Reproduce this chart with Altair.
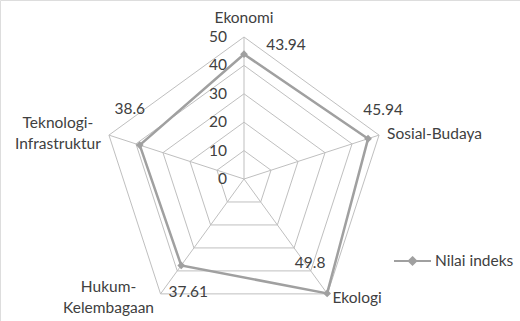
import math
import altair as alt
import pandas as pd

categories = ["Ekonomi", "Sosial-Budaya", "Ekologi", "Hukum-Kelembagaan", "Teknologi-Infrastruktur"]
display_labels = ["Ekonomi", "Sosial-Budaya", "Ekologi", "Hukum-\nKelembagaan", "Teknologi-\nInfrastruktur"]
values = [43.94, 45.94, 49.8, 37.61, 38.6]
value_labels = ["43.94", "45.94", "49.8", "37.61", "38.6"]
levels = [0, 10, 20, 30, 40, 50]
series_name = "Nilai indeks"

RMAX = 50
FONT = "Lato"
FS = 15.5
TXT = "#404040"
GRID = "#BFBFBF"
LINE = "#A0A0A0"

def ang(i):
    return math.radians(90 - 72 * i)

# grid pentagons
grid_rows = []
for lv in levels[1:]:
    for k in range(6):
        i = k % 5
        grid_rows.append({"level": lv, "order": k, "x": lv * math.cos(ang(i)), "y": lv * math.sin(ang(i))})
grid_df = pd.DataFrame(grid_rows)

spoke_df = pd.DataFrame([
    {"cat": c, "x": 0.0, "y": 0.0, "x2": RMAX * math.cos(ang(i)), "y2": RMAX * math.sin(ang(i))}
    for i, c in enumerate(categories)
])

data_rows = []
for k in range(6):
    i = k % 5
    data_rows.append({"order": k, "cat": categories[i], "series": series_name,
                      "x": values[i] * math.cos(ang(i)), "y": values[i] * math.sin(ang(i)),
                      "vlabel": value_labels[i]})
data_df = pd.DataFrame(data_rows)
pts_df = data_df.iloc[:5]

tick_df = pd.DataFrame({"level": levels, "x": [0.0] * len(levels), "label": [str(l) for l in levels]})

cat_df = pd.DataFrame([
    {"cat": c, "label": display_labels[i], "x": RMAX * math.cos(ang(i)), "y": RMAX * math.sin(ang(i))}
    for i, c in enumerate(categories)
])

xs = alt.Scale(domain=[-244 / 2.84, 276 / 2.84], nice=False, zero=False)
ys = alt.Scale(domain=[-142 / 2.84, 179 / 2.84], nice=False, zero=False)
X = lambda f="x": alt.X(f, type="quantitative", scale=xs, axis=None)
Y = lambda f="y": alt.Y(f, type="quantitative", scale=ys, axis=None)

grid = alt.Chart(grid_df).mark_line(color=GRID, strokeWidth=1).encode(
    x=X(), y=Y(), detail="level:N", order="order:Q")

spokes = alt.Chart(spoke_df).mark_rule(color=GRID, strokeWidth=1).encode(
    x=X(), y=Y(), x2="x2:Q", y2="y2:Q")

ticks = alt.Chart(tick_df).mark_text(align="right", baseline="middle", dx=-17, dy=0, font=FONT, fontSize=FS, color=TXT).encode(
    x=X(), y=Y("level"), text="label:N")

color = alt.Color("series:N", scale=alt.Scale(domain=[series_name], range=[LINE]),
                  legend=alt.Legend(title=None, orient="none", legendX=393, legendY=241.5, padding=0,
                                    symbolType="M-1,0H-0.2M0.2,0H1M0,-0.2L0.2,0L0,0.2L-0.2,0Z",
                                    symbolSize=1369, symbolStrokeWidth=2, symbolFillColor=LINE,
                                    symbolStrokeColor=LINE, labelFont=FONT, labelFontSize=FS,
                                    labelColor=TXT, labelOffset=3))

line = alt.Chart(data_df).mark_line(strokeWidth=2.5).encode(
    x=X(), y=Y(), order="order:Q", color=color)
points = alt.Chart(pts_df).mark_point(shape="diamond", filled=True, size=60, opacity=1, color=LINE).encode(
    x=X(), y=Y())

cat_style = {
    "Ekonomi": dict(align="center", dx=0, dy=-19),
    "Sosial-Budaya": dict(align="left", dx=8, dy=-1),
    "Ekologi": dict(align="left", dx=5, dy=4),
    "Hukum-Kelembagaan": dict(align="center", dx=-52, dy=-7),
    "Teknologi-Infrastruktur": dict(align="center", dx=-51, dy=-12),
}
val_style = {
    "Ekonomi": dict(dx=42, dy=-9),
    "Sosial-Budaya": dict(dx=15, dy=-29),
    "Ekologi": dict(dx=-17, dy=-30),
    "Hukum-Kelembagaan": dict(dx=7, dy=27),
    "Teknologi-Infrastruktur": dict(dx=-10, dy=-36),
}

layers = [grid, spokes, ticks, line, points]
for c in categories:
    s = cat_style[c]
    layers.append(alt.Chart(cat_df[cat_df["cat"] == c]).mark_text(
        align=s["align"], baseline="middle", dx=s["dx"], dy=s["dy"], lineBreak="\n", lineHeight=21,
        font=FONT, fontSize=FS, color=TXT).encode(x=X(), y=Y(), text="label:N"))
    v = val_style[c]
    layers.append(alt.Chart(pts_df[pts_df["cat"] == c]).mark_text(
        align="center", baseline="middle", dx=v["dx"], dy=v["dy"],
        font=FONT, fontSize=FS, color=TXT).encode(x=X(), y=Y(), text="vlabel:N"))

chart = alt.layer(*layers).properties(
    width=520, height=321, padding=0, autosize=alt.AutoSizeParams(type="none")
).configure_view(stroke=None).configure(background="white")

chart.save("out.html", embed_options={"renderer": "svg", "actions": False})
